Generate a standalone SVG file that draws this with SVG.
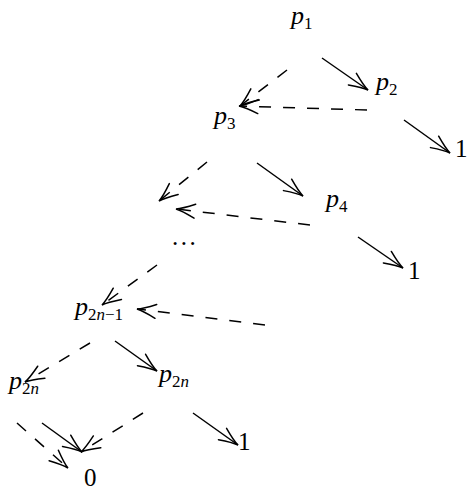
<svg xmlns="http://www.w3.org/2000/svg" width="467" height="491" viewBox="0 0 467 491">
<defs>
<marker id="ah" markerUnits="userSpaceOnUse" viewBox="-22 -10 24 20" refX="0" refY="0" markerWidth="24" markerHeight="20" orient="auto" overflow="visible">
<path d="M -19,-7 Q -6,-1 0,0 Q -6,1 -19,7" fill="none" stroke="#000" stroke-width="1.5" stroke-linecap="round"/>
</marker>
</defs>
<style>
.m{font-family:"Liberation Serif","DejaVu Serif",serif;font-style:italic;font-size:26px;fill:#000}
.s{font-style:normal;font-size:17px}
.d{font-family:"Liberation Serif","DejaVu Serif",serif;font-size:25px;fill:#000}
.e{fill:none;stroke:#000;stroke-width:1.5;marker-end:url(#ah)}
.dash{stroke-dasharray:12 12}
</style>
<g id="edges">
<line class="e" x1="322" y1="58" x2="368" y2="90"/>
<line class="e dash" x1="287" y1="70" x2="240" y2="106"/>
<line class="e dash" x1="367" y1="110" x2="239" y2="106"/>
<line class="e" x1="404" y1="120" x2="450" y2="153"/>
<line class="e" x1="257" y1="163" x2="303" y2="196"/>
<line class="e dash" x1="207" y1="162" x2="159" y2="201"/>
<line class="e dash" x1="310" y1="225" x2="176" y2="209"/>
<line class="e" x1="358" y1="237" x2="403" y2="268"/>
<line class="e dash" x1="157" y1="265" x2="102" y2="305"/>
<line class="e dash" x1="265" y1="325" x2="137" y2="309"/>
<line class="e dash" x1="90" y1="343" x2="25" y2="382"/>
<line class="e" x1="115" y1="341" x2="157" y2="371"/>
<line class="e dash" x1="17" y1="423" x2="68" y2="468"/>
<line class="e" x1="42" y1="423" x2="82" y2="452"/>
<line class="e dash" x1="143" y1="413" x2="81" y2="452"/>
<line class="e" x1="193" y1="413" x2="238" y2="445"/>
</g>
<g id="p1"><text class="m" x="291" y="24">p<tspan class="s" dy="5">1</tspan></text></g>
<g id="p2"><text class="m" x="376" y="90">p<tspan class="s" dy="5">2</tspan></text></g>
<g id="p3"><text class="m" x="214" y="124">p<tspan class="s" dy="5">3</tspan></text></g>
<g id="one1"><text class="d" x="455" y="157">1</text></g>
<g id="p4"><text class="m" x="326" y="207">p<tspan class="s" dy="5">4</tspan></text></g>
<g id="dots"><text class="d" x="172" y="245" letter-spacing="2.5">...</text></g>
<g id="one2"><text class="d" x="408" y="279">1</text></g>
<g id="p2n1"><text class="m" x="75" y="315">p<tspan class="s" dy="5">2<tspan font-style="italic">n</tspan>−1</tspan></text></g>
<g id="p2nL"><text class="m" x="9" y="389">p<tspan class="s" dy="5">2<tspan font-style="italic">n</tspan></tspan></text></g>
<g id="p2nR"><text class="m" x="159" y="382">p<tspan class="s" dy="5">2<tspan font-style="italic">n</tspan></tspan></text></g>
<g id="one3"><text class="d" x="238" y="450">1</text></g>
<g id="zero"><text class="d" x="84" y="486">0</text></g>
</svg>
